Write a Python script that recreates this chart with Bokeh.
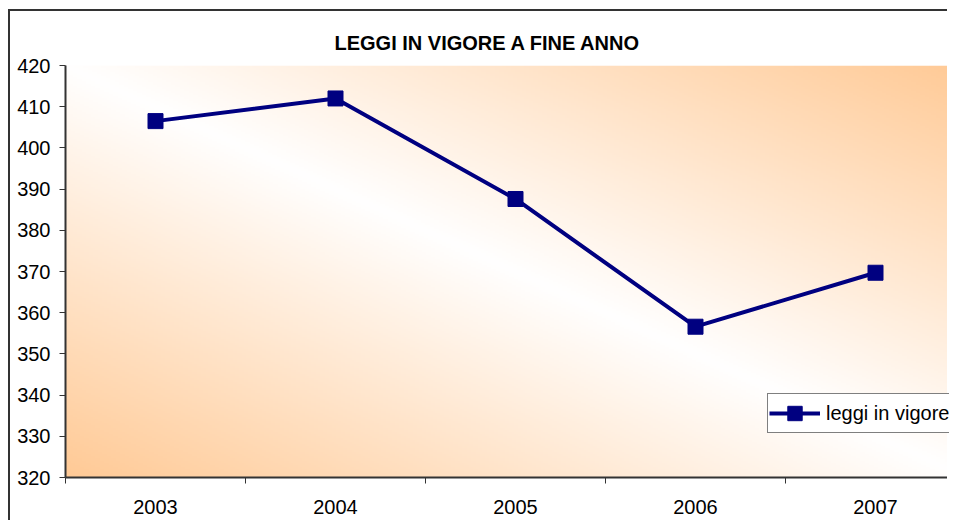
import numpy as np
from bokeh.plotting import figure
from bokeh.models import FixedTicker, Legend, LegendItem, Range1d
from bokeh.embed import file_html
from bokeh.resources import INLINE

# ---- data ----
years = ["2003", "2004", "2005", "2006", "2007"]
laws = [406.5, 412.0, 387.6, 356.6, 369.7]
y_ticks = list(range(320, 421, 10))
title_text = "LEGGI IN VIGORE A FINE ANNO"
series_name = "leggi in vigore"

xs = list(range(len(years)))
FONT = "Liberation Sans"
NAVY = "#000080"

p = figure(width=939, height=511, output_backend="svg", toolbar_location=None,
           x_range=Range1d(-0.5, -0.5 + 884 / 180), y_range=Range1d(320, 420),
           min_border_left=55, min_border_top=54, min_border_right=0, min_border_bottom=45,
           background_fill_color="white", border_fill_color="white")
p.styles = {"margin-left": "8px", "margin-top": "9px",
            "border-left": "2px solid #333333", "border-top": "2px solid #333333"}
p.outline_line_color = None

# title
p.title.text = title_text
p.title.text_font = FONT
p.title.text_font_size = "20px"
p.title.text_font_style = "bold"
p.title.text_color = "black"
p.title.align = "left"
p.title.offset = 269
p.title.standoff = 24

# gradient background (decoration)
ny, nx = 200, 400
u = np.linspace(0, 1, nx)[None, :]
v = 1 - np.linspace(0, 1, ny)[:, None]
t = np.clip(np.abs(u - v), 0, 1)
img = np.empty((ny, nx), dtype=np.uint32)
view = img.view(np.uint8).reshape(ny, nx, 4)
view[..., 0] = 255
view[..., 1] = (255 - t * (255 - 202)).astype(np.uint8)
view[..., 2] = (255 - t * (255 - 150)).astype(np.uint8)
view[..., 3] = 255
p.image_rgba(image=[img], x=-0.5, y=y_ticks[0], dw=len(years), dh=y_ticks[-1] - y_ticks[0])

# grid
p.xgrid.visible = False
p.ygrid.ticker = FixedTicker(ticks=y_ticks)
p.ygrid.grid_line_color = "#808080"
p.ygrid.grid_line_width = 1.5

# axes
for ax in (p.xaxis[0], p.yaxis[0]):
    ax.axis_line_color = "#333333"
    ax.axis_line_width = 2
    ax.major_label_text_font = FONT
    ax.major_label_text_font_size = "20px"
    ax.major_label_text_color = "black"
    ax.major_tick_line_color = "#333333"
    ax.minor_tick_line_color = "#333333"

p.yaxis.ticker = FixedTicker(ticks=y_ticks)
p.yaxis.major_tick_out = 6
p.yaxis.major_tick_in = 0
p.yaxis.minor_tick_out = 0
p.yaxis.minor_tick_in = 0
p.yaxis.major_label_standoff = 9

p.xaxis.ticker = FixedTicker(ticks=xs, minor_ticks=[i + 0.5 for i in range(-1, len(years))])
p.xaxis.major_label_overrides = {i: y for i, y in enumerate(years)}
p.xaxis.major_tick_out = 0
p.xaxis.major_tick_in = 0
p.xaxis.minor_tick_out = 6
p.xaxis.minor_tick_in = 0
p.xaxis.major_label_standoff = 16

# series
ln = p.line(xs, laws, line_color=NAVY, line_width=4)
sc = p.scatter(xs, laws, marker="square", size=15, fill_color=NAVY, line_color=NAVY)

legend = Legend(items=[LegendItem(label=series_name, renderers=[ln, sc])],
                location=(702, 44))
legend.border_line_color = "black"
legend.border_line_width = 1
legend.background_fill_color = "white"
legend.background_fill_alpha = 1
legend.label_text_font = FONT
legend.label_text_font_size = "20px"
legend.label_text_color = "black"
legend.glyph_width = 51
legend.glyph_height = 36
legend.padding = 1
legend.label_standoff = 6
legend.margin = 0
p.add_layout(legend)

open("out.html", "w").write(file_html(p, INLINE))
